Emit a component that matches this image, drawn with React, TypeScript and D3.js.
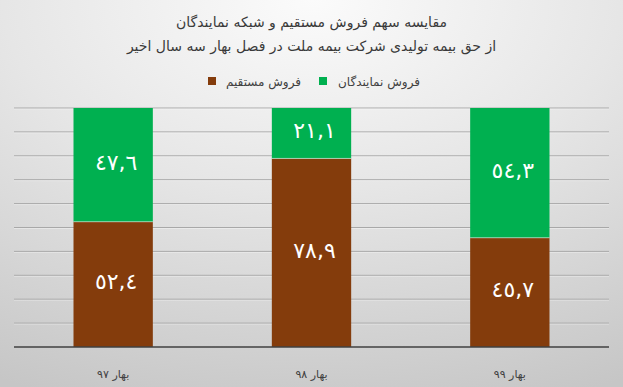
import React from "react";
import * as d3 from "d3";

const categories = ["بهار ٩٧", "بهار ٩٨", "بهار ٩٩"];
const directSales = [52.4, 78.9, 45.7];
const agentSales = [47.6, 21.1, 54.3];
const directLabels = ["٥٢,٤", "٧٨,٩", "٤٥,٧"];
const agentLabels = ["٤٧,٦", "٢١,١", "٥٤,٣"];
const seriesNames = ["فروش مستقیم", "فروش نمایندگان"];
const titleLines = [
  "مقایسه سهم فروش مستقیم و شبکه نمایندگان",
  "از حق بیمه تولیدی شرکت بیمه ملت در فصل بهار سه سال اخیر",
];

const W = 623;
const H = 387;
const FONT = "'DejaVu Sans', 'Noto Sans', sans-serif";
const BROWN = "#843C0C";
const GREEN = "#00B050";

export default function App() {
  const x = d3.scaleBand<string>().domain(categories).range([14, 609]).paddingInner(0.6).paddingOuter(0.3);
  const y = d3.scaleLinear().domain([0, 100]).range([347, 108]);
  const ticks = d3.range(10, 101, 10);

  const rows = categories.map((c, i) => ({
    c,
    segs: [
      { y0: 0, y1: directSales[i], color: BROWN, label: directLabels[i] },
      { y0: directSales[i], y1: directSales[i] + agentSales[i], color: GREEN, label: agentLabels[i] },
    ],
  }));

  return (
    <svg width={W} height={H} style={{ position: "absolute", left: 0, top: 0 }}>
      <defs>
        <radialGradient id="bg" cx="0.5" cy="0" r="1.1" fx="0.5" fy="0">
          <stop offset="0" stopColor="#fbfbfb" />
          <stop offset="0.45" stopColor="#e6e6e6" />
          <stop offset="1" stopColor="#c6c6c6" />
        </radialGradient>
      </defs>
      <rect x={0} y={0} width={W} height={H} fill="url(#bg)" />
      {titleLines.map((t, i) => (
        <text key={i} x={W / 2} y={27 + i * 24} textAnchor="middle" direction="rtl" fontFamily={FONT} fontSize={14} fill="#3a3a3a">
          {t}
        </text>
      ))}
      {/* legend */}
      <rect x={208} y={77} width={8} height={8} fill={BROWN} />
      <text x={301} y={85.5} textAnchor="end" fontFamily={FONT} fontSize={12} fill="#404040">{seriesNames[0]}</text>
      <rect x={319} y={77} width={8} height={8} fill={GREEN} />
      <text x={420} y={85.5} textAnchor="end" fontFamily={FONT} fontSize={12} fill="#404040">{seriesNames[1]}</text>
      {/* grid */}
      {ticks.map((t) => (
        <g key={t}>
          <line x1={14} x2={609} y1={y(t)} y2={y(t)} stroke="#a8a8a8" strokeWidth={1} />
          <line x1={14} x2={609} y1={y(t) + 1} y2={y(t) + 1} stroke="#ffffff" strokeOpacity={0.35} strokeWidth={1} />
        </g>
      ))}
      {rows.map((r) => (
        <g key={r.c}>
          {r.segs.map((s, j) => (
            <g key={j}>
              <rect x={x(r.c)} y={y(s.y1)} width={x.bandwidth()} height={y(s.y0) - y(s.y1)} fill={s.color} />
              <text
                x={(x(r.c) as number) + x.bandwidth() / 2 + 3}
                y={(y(s.y0) + y(s.y1)) / 2 + 5}
                textAnchor="middle"
                fontFamily={FONT}
                fontSize={22}
                letterSpacing={6}
                fill="#ffffff"
              >
                {s.label}
              </text>
            </g>
          ))}
          <line x1={x(r.c)} x2={(x(r.c) as number) + x.bandwidth()} y1={y(r.segs[0].y1)} y2={y(r.segs[0].y1)} stroke="#ffffff" strokeOpacity={0.5} strokeWidth={1} />
          <text x={(x(r.c) as number) + x.bandwidth() / 2} y={378} textAnchor="middle" direction="rtl" fontFamily={FONT} fontSize={11} fill="#404040">
            {r.c}
          </text>
        </g>
      ))}
      <line x1={14} x2={609} y1={y(0)} y2={y(0)} stroke="#404040" strokeWidth={1.5} />
    </svg>
  );
}
